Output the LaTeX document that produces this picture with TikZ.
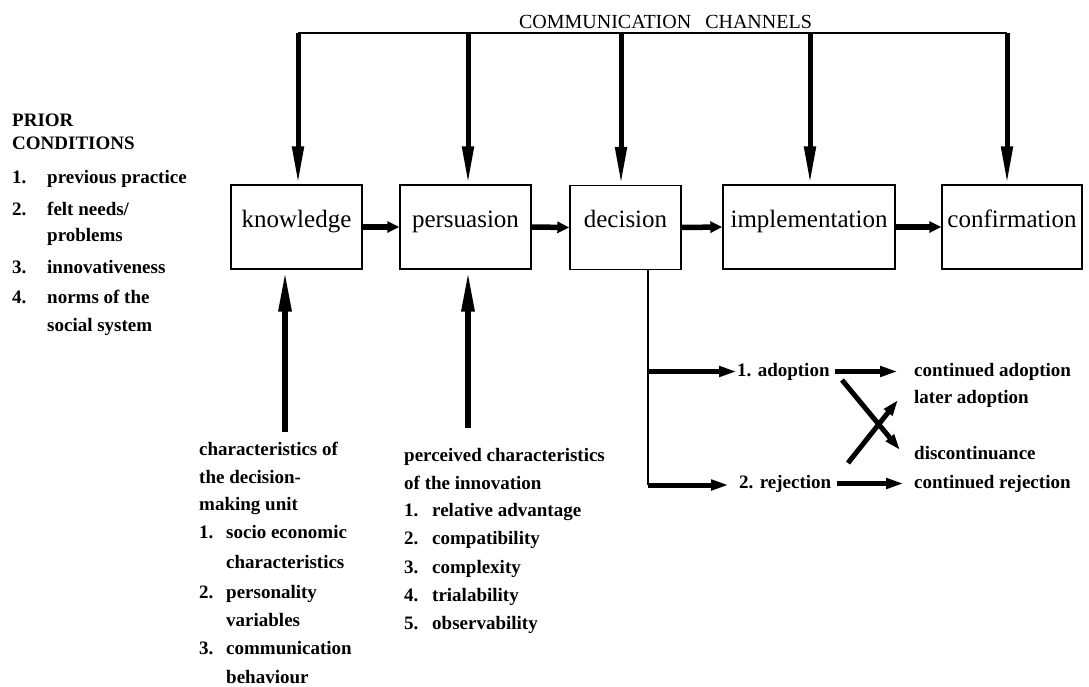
\documentclass[tikz,border=0pt]{standalone}
\usepackage{fontspec}
\setmainfont{Liberation Serif}
\usetikzlibrary{arrows.meta}
\begin{document}
\begin{tikzpicture}[x=1pt,y=-1pt,
  stage/.style={draw, line width=1.4pt, minimum height=84pt, inner sep=0pt,
    text height=12pt, text depth=12pt, font=\fontsize{25}{30}\selectfont},
  note/.style={anchor=base west, inner sep=0pt, font=\fontsize{19}{23}\selectfont\bfseries},
  outcome/.style={note, text height=13pt, text depth=4pt},
  thinline/.style={line width=1.4pt},
  chan/.style={line width=5pt, -{Triangle[length=38pt,width=11pt]}},
  feed/.style={line width=6pt, -{Triangle[length=42pt,width=12pt]}},
  step arrow/.style={line width=5.5pt, -{Triangle[length=12pt,width=11pt]}},
  outarrow/.style={line width=5pt, -{Triangle[length=18pt,width=10pt]}},
  crossarrow/.style={line width=5pt, -{Triangle[length=16pt,width=10pt]}}
]
\path[use as bounding box] (0,0) rectangle (1089,686);

% the five stages
\node[stage, minimum width=131pt] (knowledge) at (296.5,227) {knowledge};
\node[stage, minimum width=131pt] (persuasion) at (465.5,227) {persuasion};
\node[stage, minimum width=111pt] (decision) at (625.5,227.5) {decision};
\node[stage, minimum width=172pt] (implementation) at (809,227) {implementation};
\node[stage, minimum width=140pt] (confirmation) at (1012,227) {confirmation};

\draw[step arrow] (knowledge.east) -- (persuasion.west);
\draw[step arrow] (persuasion.east) -- (decision.west);
\draw[step arrow] (decision.east) -- (implementation.west);
\draw[step arrow] (implementation.east) -- (confirmation.west);

% communication channels feeding every stage
\node[anchor=base, inner sep=0pt, font=\fontsize{20}{24}\selectfont] (channels) at (665.5,28)
  {COMMUNICATION\hspace{0.7em}CHANNELS};
\coordinate (c1) at (298,33);
\coordinate (c2) at (468,33);
\coordinate (c3) at (621,33);
\coordinate (c4) at (810,33);
\coordinate (c5) at (1007,33);
\draw[thinline] (c1) -- (c5);
\draw[chan] (c1) -- (c1 |- knowledge.north);
\draw[chan] (c2) -- (c2 |- persuasion.north);
\draw[chan] (c3) -- (c3 |- decision.north);
\draw[chan] (c4) -- (c4 |- implementation.north);
\draw[chan] (c5) -- (c5 |- confirmation.north);

% prior conditions
\node[note] (pc1) at (12,126) {PRIOR};
\node[note] (pc2) at (12,149) {CONDITIONS};
\node[note] (pc3) at (12,183) {\makebox[35pt][l]{1.}previous practice};
\node[note] (pc4) at (12,215) {\makebox[35pt][l]{2.}felt needs/};
\node[note] (pc5) at (12,241) {\makebox[35pt][l]{}problems};
\node[note] (pc6) at (12,273) {\makebox[35pt][l]{3.}innovativeness};
\node[note] (pc7) at (12,303) {\makebox[35pt][l]{4.}norms of the};
\node[note] (pc8) at (12,331) {\makebox[35pt][l]{}social system};

% characteristics of the decision-making unit
\coordinate (fk) at (285,432);
\draw[feed] (fk) -- (fk |- knowledge.south);
\node[note] (du1) at (199,455) {characteristics of};
\node[note] (du2) at (199,483) {the decision-};
\node[note] (du3) at (199,510) {making unit};
\node[note] (du4) at (199,538) {\makebox[27pt][l]{1.}socio economic};
\node[note] (du5) at (199,568) {\makebox[27pt][l]{}characteristics};
\node[note] (du6) at (199,598) {\makebox[27pt][l]{2.}personality};
\node[note] (du7) at (199,626) {\makebox[27pt][l]{}variables};
\node[note] (du8) at (199,654) {\makebox[27pt][l]{3.}communication};
\node[note] (du9) at (199,683) {\makebox[27pt][l]{}behaviour};

% perceived characteristics of the innovation
\coordinate (fp) at (468,428);
\draw[feed] (fp) -- (fp |- persuasion.south);
\node[note] (pi1) at (404,461) {perceived characteristics};
\node[note] (pi2) at (404,489) {of the innovation};
\node[note] (pi3) at (404,516) {\makebox[28pt][l]{1.}relative advantage};
\node[note] (pi4) at (404,544) {\makebox[28pt][l]{2.}compatibility};
\node[note] (pi5) at (404,573) {\makebox[28pt][l]{3.}complexity};
\node[note] (pi6) at (404,601) {\makebox[28pt][l]{4.}trialability};
\node[note] (pi7) at (404,629) {\makebox[28pt][l]{5.}observability};

% outcomes of the decision
\node[outcome] (adopt) at (737,376) {1. adoption};
\node[outcome] (reject) at (739,488) {2. rejection};
\node[outcome] (contad) at (914,376) {continued adoption};
\node[outcome] (later) at (914,403) {later adoption};
\node[outcome] (discont) at (914,459) {discontinuance};
\node[outcome] (contrej) at (914,488) {continued rejection};

\coordinate (d1) at (648,371.5);
\coordinate (d2) at (648,485);
\draw[thinline] (d1 |- decision.south) -- (d2);
\draw[outarrow] (d1) -- (d1 -| adopt.west);
\draw[outarrow] (d2) -- ([xshift=-10pt]d2 -| reject.west);
\draw[outarrow, shorten <=5pt, shorten >=16pt] (adopt.east) -- (contad.west);
\draw[outarrow, shorten <=6pt, shorten >=10pt] (reject.east) -- (contrej.west);

% switching between adoption and rejection
\coordinate (xa) at (842,380);
\coordinate (xb) at (900,450);
\coordinate (ya) at (848,463);
\coordinate (yb) at (898,400);
\draw[crossarrow] (xa) -- (xb);
\draw[crossarrow] (ya) -- (yb);
\end{tikzpicture}
\end{document}
